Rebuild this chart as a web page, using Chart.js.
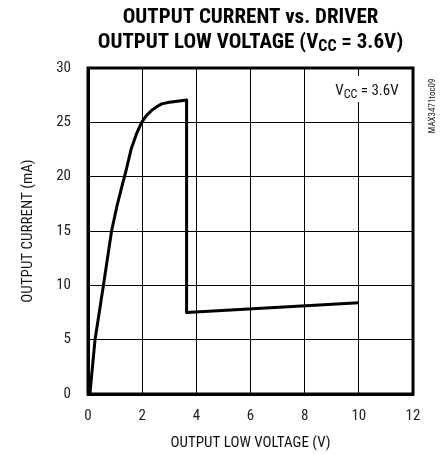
<!DOCTYPE html>
<html>
<head>
<meta charset="utf-8">
<script src="https://cdn.jsdelivr.net/npm/chart.js@4/dist/chart.umd.min.js"></script>
<style>
  html, body { margin: 0; padding: 0; background: #fff; }
  #wrap { width: 443px; height: 455px; position: relative; }
</style>
</head>
<body>
<div id="wrap"><canvas id="c" width="443" height="455"></canvas></div>
<script>
// ---- data ----
const voltage = [0.07, 0.26, 0.57, 0.87, 1.07, 1.24, 1.4, 1.6, 1.8, 1.98, 2.15, 2.35, 2.55, 2.72, 3.0, 3.3, 3.64, 3.64, 10];
const current = [0, 5, 10, 15, 17.3, 19.0, 20.5, 22.6, 24.0, 25.0, 25.6, 26.1, 26.45, 26.7, 26.85, 26.95, 27.05, 7.5, 8.4];
const xTicks = [0, 2, 4, 6, 8, 10, 12];
const yTicks = [0, 5, 10, 15, 20, 25, 30];
const titleLine1 = "OUTPUT CURRENT vs. DRIVER";
const titleLine2 = ["OUTPUT LOW VOLTAGE (V", "CC", " = 3.6V)"];
const annotation = ["V", "CC", " = 3.6V"];
const xTitle = "OUTPUT LOW VOLTAGE (V)";
const yTitle = "OUTPUT CURRENT (mA)";
const sideNote = "MAX3471toc09";

const FONT = "'Liberation Sans Narrow', 'Arial Narrow', 'Roboto Condensed', sans-serif";
const points = voltage.map((v, i) => ({ x: v, y: current[i] }));

function drawSub(ctx, parts, sizes, offs, xCenter, baseline, weight) {
  let widths = parts.map((p, i) => { ctx.font = weight + " " + sizes[i] + "px " + FONT; return ctx.measureText(p).width; });
  let total = widths.reduce((a, b) => a + b, 0);
  let x = xCenter - total / 2;
  ctx.textAlign = "left";
  ctx.textBaseline = "alphabetic";
  parts.forEach((p, i) => {
    ctx.font = weight + " " + sizes[i] + "px " + FONT;
    ctx.fillText(p, x, baseline + offs[i]);
    x += widths[i];
  });
  return total;
}

const decor = {
  id: "decor",
  afterDraw(chart) {
    const ctx = chart.ctx;
    const a = chart.chartArea;
    ctx.save();
    // frame top/right
    ctx.strokeStyle = "#000";
    ctx.lineWidth = 3;
    ctx.strokeRect(a.left, a.top, a.right - a.left, a.bottom - a.top);

    ctx.fillStyle = "#000";
    // title
    ctx.font = "bold 21px " + FONT;
    ctx.textAlign = "center";
    ctx.textBaseline = "alphabetic";
    const cx = (a.left + a.right) / 2;
    ctx.fillText(titleLine1, cx, 23);
    drawSub(ctx, titleLine2, [21, 16, 21], [0, 3, 0], cx, 48, "bold");

    // annotation with white background
    ctx.fillStyle = "#fff";
    ctx.fillRect(329, 76, 76, 26);
    ctx.fillStyle = "#111";
    drawSub(ctx, annotation, [15, 12, 15], [0, 3, 0], 367, 95, "normal");

    // axis titles
    ctx.fillStyle = "#111";
    ctx.font = "15px " + FONT;
    ctx.textAlign = "center";
    ctx.textBaseline = "middle";
    ctx.fillText(xTitle, cx, 443);
    ctx.save();
    ctx.translate(28, (a.top + a.bottom) / 2);
    ctx.rotate(-Math.PI / 2);
    ctx.fillText(yTitle, 0, 0);
    ctx.restore();

    // side note
    ctx.save();
    ctx.font = "9px " + FONT;
    ctx.fillStyle = "#222";
    ctx.translate(433, 106);
    ctx.rotate(-Math.PI / 2);
    ctx.textAlign = "center";
    ctx.textBaseline = "middle";
    ctx.fillText(sideNote, 0, 0);
    ctx.restore();
    ctx.restore();
  }
};

new Chart(document.getElementById("c"), {
  type: "line",
  data: {
    datasets: [{
      data: points,
      borderColor: "#000",
      borderWidth: 3,
      pointRadius: 0,
      tension: 0,
      fill: false,
      borderJoinStyle: "round"
    }]
  },
  options: {
    responsive: false,
    animation: false,
    devicePixelRatio: 1,
    layout: { padding: { top: 68, right: 30, left: 0, bottom: 0 } },
    plugins: { legend: { display: false }, title: { display: false }, tooltip: { enabled: false } },
    scales: {
      x: {
        type: "linear", min: 0, max: 12,
        afterBuildTicks: s => { s.ticks = xTicks.map(v => ({ value: v })); },
        afterFit: s => { s.height = 61; },
        ticks: { color: "#222", font: { family: FONT, size: 15 }, padding: 13, maxRotation: 0 },
        grid: { color: "#000", lineWidth: 1, drawTicks: false },
        border: { color: "#000", width: 3 }
      },
      y: {
        type: "linear", min: 0, max: 30,
        afterBuildTicks: s => { s.ticks = yTicks.map(v => ({ value: v })); },
        afterFit: s => { s.width = 88; },
        ticks: { color: "#222", font: { family: FONT, size: 15 }, padding: 17 },
        grid: { color: "#000", lineWidth: 1, drawTicks: false },
        border: { color: "#000", width: 3 }
      }
    }
  },
  plugins: [decor]
});
</script>
</body>
</html>
